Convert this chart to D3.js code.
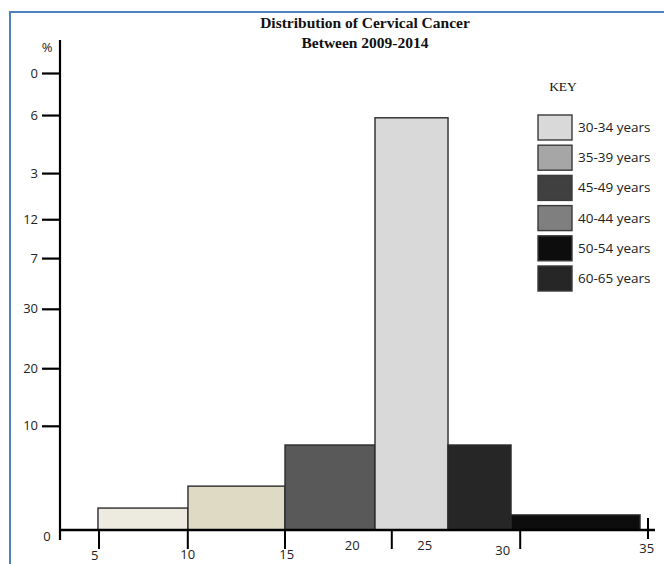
<!DOCTYPE html>
<html><head><meta charset="utf-8">
<script src="https://cdn.jsdelivr.net/npm/d3@7"></script>
<style>body{margin:0;background:#fff}svg{display:block}</style>
</head><body>
<svg id="c" width="664" height="564"></svg>
<script>
// ---- data ----
const titleLines = ["Distribution of Cervical Cancer", "Between 2009-2014"];
const yUnitLabel = "%";
const yTickLabels = ["0", "6", "3", "12", "7", "30", "20", "10"];
const yTickValues = [100, 90.8, 78.1, 68.0, 59.5, 48.4, 35.4, 22.8];
const originLabel = "0";
const xTickValues = [6.5, 21.3, 37.5, 55.3, 76.7, 98.0];
const xTickLabels = ["5", "10", "15", "20", "25", "30", "35"];
const xLabelValues = [5.8, 21.3, 37.8, 48.7, 60.8, 73.8, 97.8];
const barStarts = [6.33, 21.33, 37.5, 52.5, 64.67, 75.17];
const barEnds = [21.33, 37.5, 52.5, 64.67, 75.17, 96.67];
const barValues = [4.8, 9.6, 18.6, 90.2, 18.6, 3.3];
const keyTitle = "KEY";
const keyLabels = ["30-34 years", "35-39 years", "45-49 years", "40-44 years", "50-54 years", "60-65 years"];

// ---- styles ----
const barFill = d3.scaleOrdinal().domain(d3.range(barValues.length))
  .range(["#edebe0", "#dedac3", "#595959", "#d9d9d9", "#262626", "#0d0d0d"]);
const keyFill = d3.scaleOrdinal().domain(keyLabels)
  .range(["#d9d9d9", "#a6a6a6", "#404040", "#7f7f7f", "#0d0d0d", "#262626"]);
const sans = "'Open Sans',sans-serif";

const svg = d3.select("#c");
const x = d3.scaleLinear().domain([0, 100]).range([60, 660]);
const y = d3.scaleLinear().domain([0, 100]).range([530, 73]);

// frame
svg.append("rect").attr("x", 10).attr("y", 12).attr("width", 700).attr("height", 600)
  .attr("fill", "none").attr("stroke", "#4f81bd").attr("stroke-width", 2);

// title
svg.append("g").selectAll("text").data(titleLines).join("text")
  .attr("x", 365).attr("y", (d, i) => 28 + i * 20)
  .attr("text-anchor", "middle")
  .style("font-family", "'Liberation Serif','Times New Roman',serif")
  .style("font-weight", "bold").style("font-size", "15.5px").attr("fill", "#111")
  .text(d => d);

// bars
const bars = barValues.map((v, i) => ({ v, s: barStarts[i], e: barEnds[i], i }));
svg.append("g").selectAll("rect").data(bars).join("rect")
  .attr("x", d => x(d.s)).attr("width", d => x(d.e) - x(d.s))
  .attr("y", d => y(d.v)).attr("height", d => y(0) - y(d.v))
  .attr("fill", d => barFill(d.i)).attr("stroke", "#2b2b2b").attr("stroke-width", 1.4);

// y axis
const yAxis = d3.axisLeft(y).tickValues(yTickValues)
  .tickFormat((d, i) => yTickLabels[i]).tickSize(18).tickPadding(4);
const gy = svg.append("g").attr("transform", `translate(${x(0)},0)`).call(yAxis);
gy.select(".domain").remove();
gy.selectAll(".tick line").attr("stroke", "#000").attr("stroke-width", 2.2);
gy.selectAll(".tick text").style("font-family", sans)
  .style("font-size", "13px").attr("fill", "#222");
svg.append("line").attr("x1", x(0)).attr("x2", x(0)).attr("y1", 40).attr("y2", y(0) + 10)
  .attr("stroke", "#000").attr("stroke-width", 2.2);
svg.append("text").attr("x", 47).attr("y", 52).attr("text-anchor", "middle")
  .style("font-family", sans).style("font-size", "13px").attr("fill", "#222")
  .text(yUnitLabel);
svg.append("text").attr("x", 47).attr("y", y(0) + 11).attr("text-anchor", "middle")
  .style("font-family", sans).style("font-size", "13px").attr("fill", "#222")
  .text(originLabel);

// x axis
svg.append("line").attr("x1", x(0)).attr("x2", 655).attr("y1", y(0)).attr("y2", y(0))
  .attr("stroke", "#000").attr("stroke-width", 2.4);
const last = xTickValues.length - 1;
svg.append("g").selectAll("line").data(xTickValues).join("line")
  .attr("x1", d => x(d)).attr("x2", d => x(d))
  .attr("y1", (d, i) => i === last ? y(0) - 12 : y(0))
  .attr("y2", (d, i) => i === last ? y(0) + 9 : y(0) + 19)
  .attr("stroke", "#000").attr("stroke-width", 2);
const xLabelDy = [30, 29, 29, 20, 20, 25, 23];
svg.append("g").selectAll("text").data(xTickLabels).join("text")
  .attr("x", (d, i) => x(xLabelValues[i])).attr("y", (d, i) => y(0) + xLabelDy[i])
  .attr("text-anchor", "middle")
  .style("font-family", sans).style("font-size", "13px").attr("fill", "#222")
  .text(d => d);

// key
svg.append("text").attr("x", 563).attr("y", 91).attr("text-anchor", "middle")
  .style("font-family", "'Liberation Serif','Times New Roman',serif").style("font-size", "13.5px")
  .attr("fill", "#111").text(keyTitle);
const key = svg.append("g").selectAll("g").data(keyLabels).join("g")
  .attr("transform", (d, i) => `translate(538,${115 + i * 30.2})`);
key.append("rect").attr("width", 34).attr("height", 25)
  .attr("fill", d => keyFill(d)).attr("stroke", "#3a3a3a").attr("stroke-width", 1.4);
key.append("text").attr("x", 40).attr("y", 17)
  .style("font-family", sans).style("font-size", "13.5px").attr("fill", "#222")
  .text(d => d);
</script>
</body></html>
